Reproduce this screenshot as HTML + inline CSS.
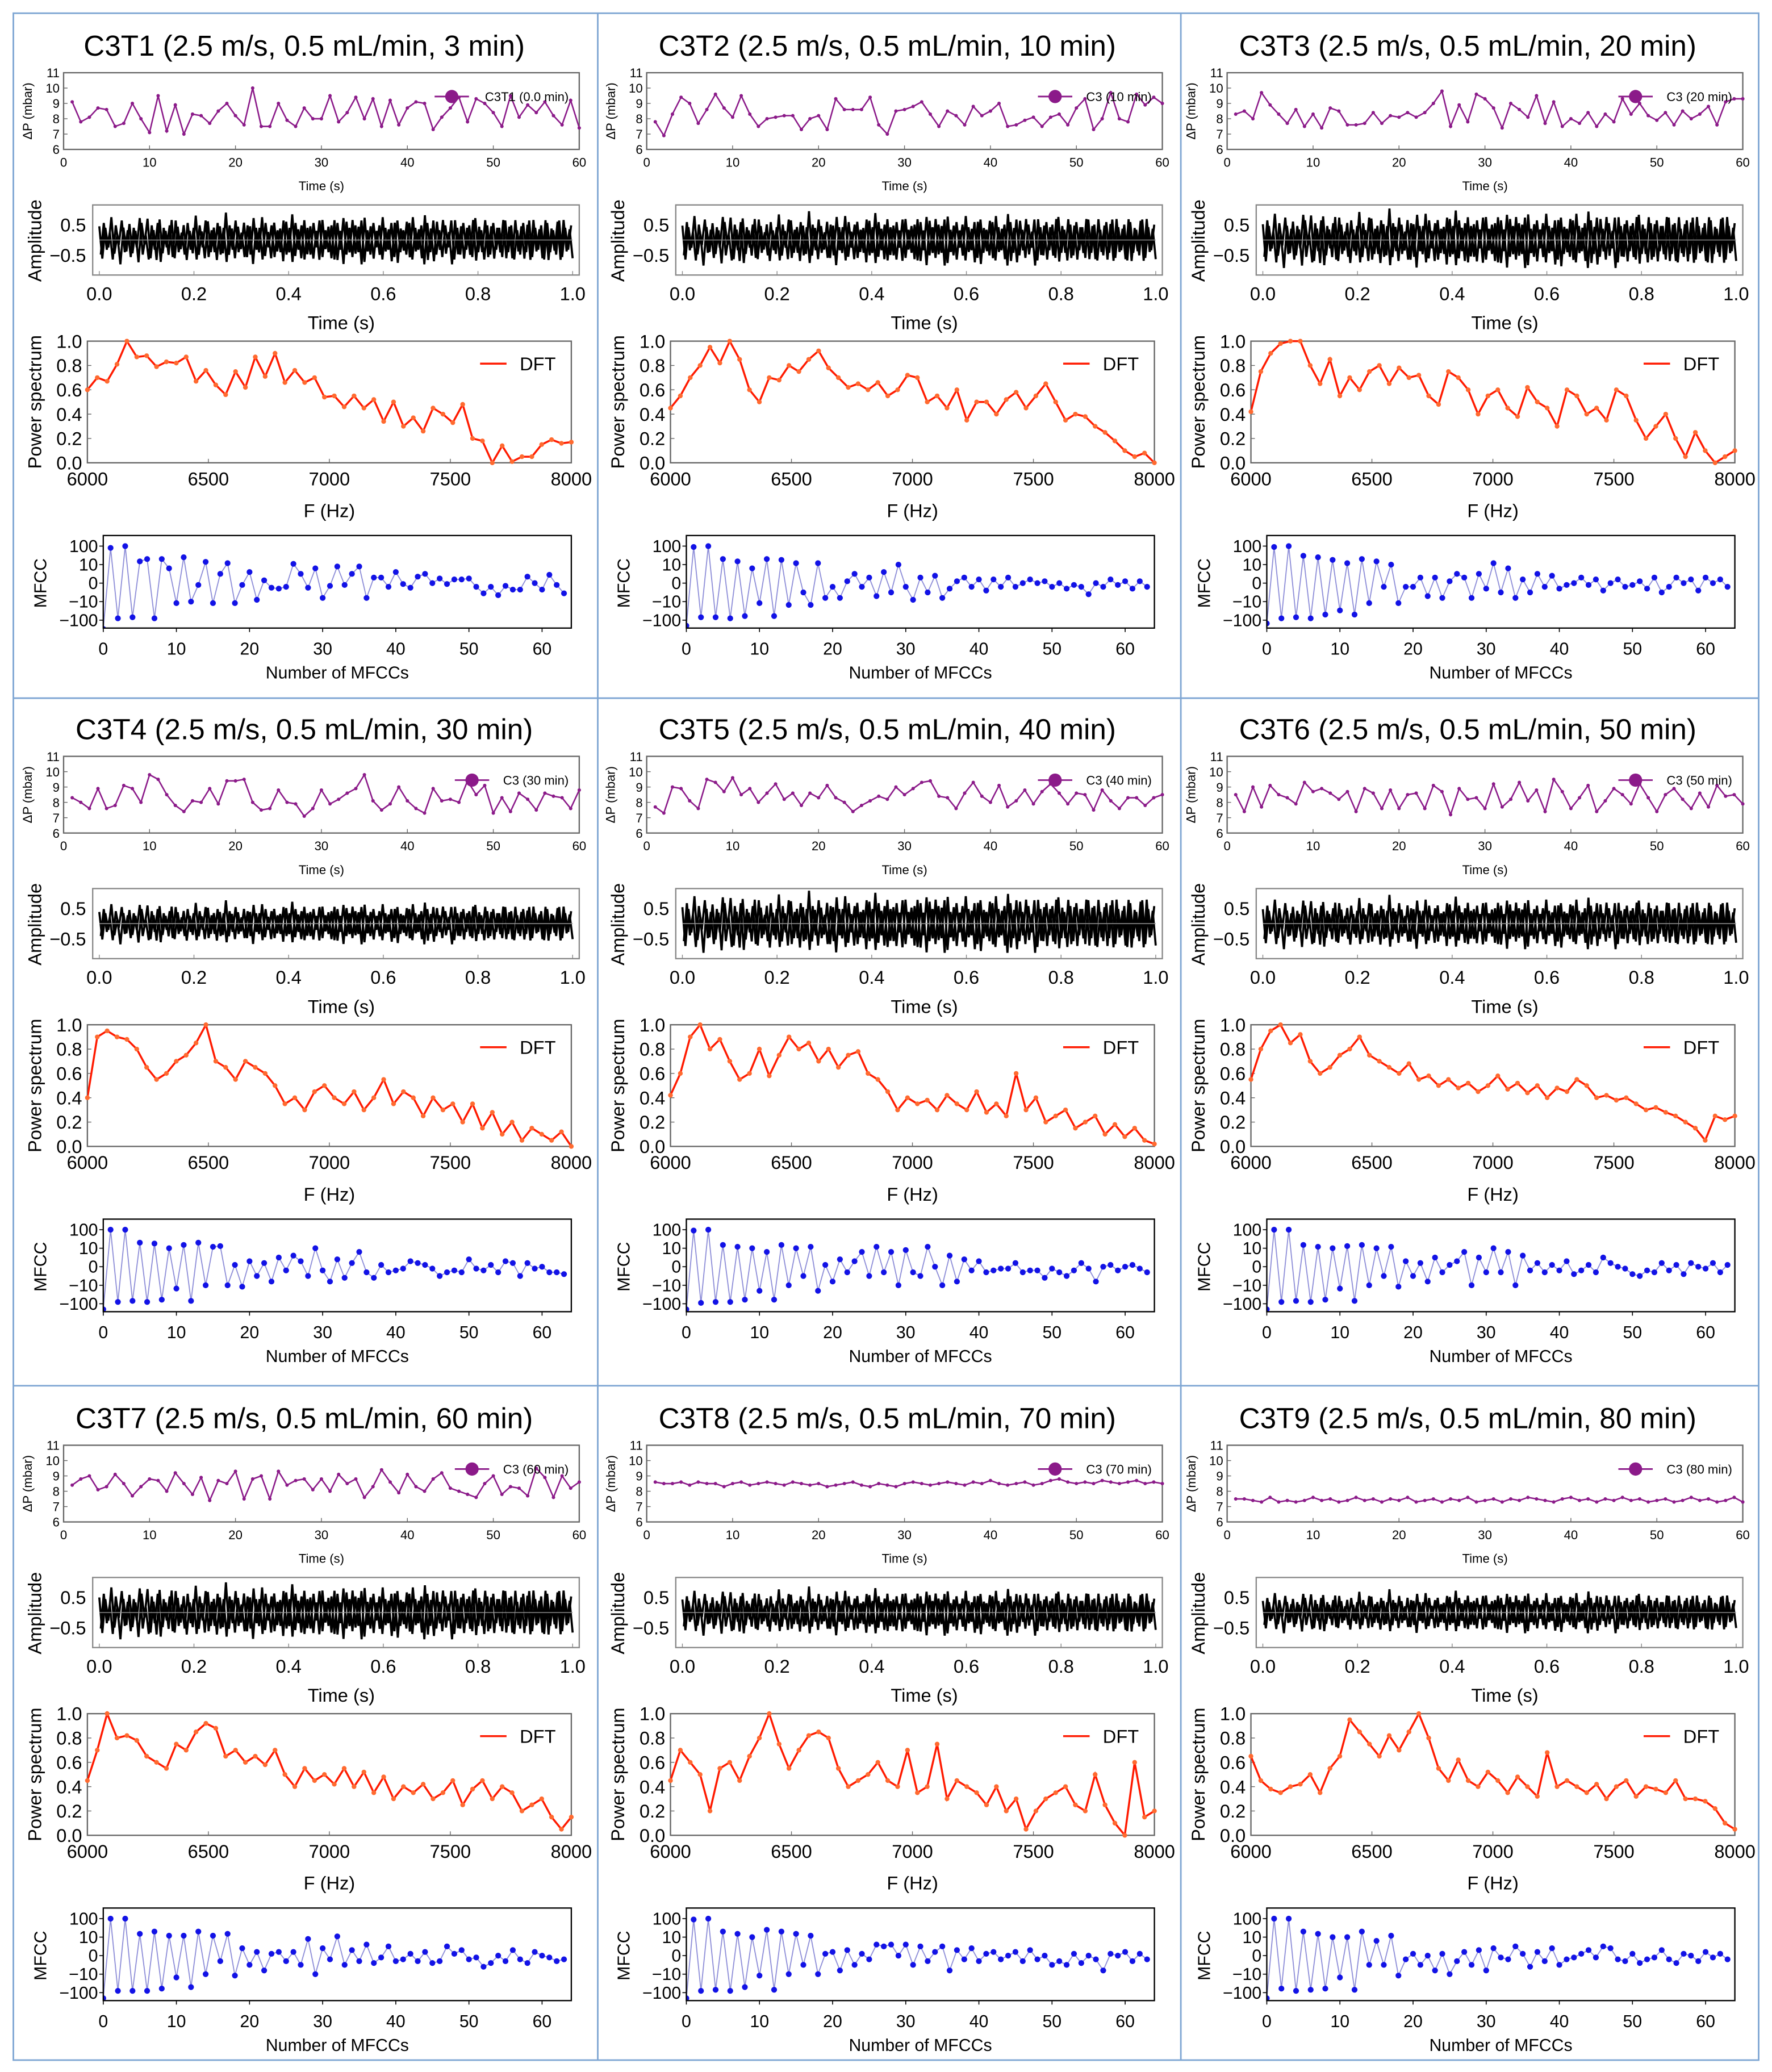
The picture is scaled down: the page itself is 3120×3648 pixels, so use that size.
<!DOCTYPE html>
<html><head><meta charset="utf-8"><style>
html,body{margin:0;padding:0;background:#fff}
svg{display:block;font-family:"Liberation Sans",Arial,sans-serif}
</style></head><body>
<svg id="fig" width="3120" height="3648" viewBox="0 0 1340 1567" xmlns="http://www.w3.org/2000/svg">
<rect x="0" y="0" width="1340" height="1567" fill="#fff"/>
<g stroke="#7fa6d3" stroke-width="1.2" fill="none">
<rect x="10" y="10" width="1320" height="1548"/>
<line x1="452" y1="10" x2="452" y2="1558"/><line x1="893" y1="10" x2="893" y2="1558"/>
<line x1="10" y1="528" x2="1330" y2="528"/><line x1="10" y1="1048" x2="1330" y2="1048"/>
</g>
</svg>
<script>
const titles=["C3T1 (2.5 m/s, 0.5 mL/min, 3 min)","C3T2 (2.5 m/s, 0.5 mL/min, 10 min)","C3T3 (2.5 m/s, 0.5 mL/min, 20 min)","C3T4 (2.5 m/s, 0.5 mL/min, 30 min)","C3T5 (2.5 m/s, 0.5 mL/min, 40 min)","C3T6 (2.5 m/s, 0.5 mL/min, 50 min)","C3T7 (2.5 m/s, 0.5 mL/min, 60 min)","C3T8 (2.5 m/s, 0.5 mL/min, 70 min)","C3T9 (2.5 m/s, 0.5 mL/min, 80 min)"];
const legendLabels=["C3T1 (0.0 min)","C3 (10 min)","C3 (20 min)","C3 (30 min)","C3 (40 min)","C3 (50 min)","C3 (60 min)","C3 (70 min)","C3 (80 min)"];
const dpTicksY=[6,7,8,9,10,11];
const dpTicksX=[0,10,20,30,40,50,60];
const ampTicksX=["0.0","0.2","0.4","0.6","0.8","1.0"];
const psTicksY=["0.0","0.2","0.4","0.6","0.8","1.0"];
const psTicksX=[6000,6500,7000,7500,8000];
const mfTicksY=[100,10,0,-10,-100];
const mfTicksX=[0,10,20,30,40,50,60];
const dp1=[9.1,7.8,8.1,8.7,8.6,7.5,7.7,9.0,8.0,7.1,9.5,7.2,8.9,7.0,8.3,8.2,7.7,8.5,9.0,8.2,7.6,10.0,7.5,7.5,9.0,7.9,7.5,8.7,8.0,8.0,9.5,7.8,8.4,9.4,8.0,9.3,7.5,9.2,7.6,8.7,9.1,9.0,7.3,8.1,8.7,9.4,7.8,9.3,9.0,8.4,7.5,9.5,8.1,8.9,8.4,9.1,8.2,7.6,9.2,7.4];
const dp2=[7.8,6.9,8.3,9.4,9.0,7.7,8.6,9.6,8.7,8.1,9.5,8.3,7.5,8.0,8.1,8.2,8.2,7.3,8.0,8.2,7.3,9.3,8.6,8.6,8.6,9.4,7.6,7.0,8.5,8.6,8.8,9.1,8.3,7.5,8.5,8.2,7.6,8.8,8.2,8.5,9.0,7.5,7.6,7.9,8.1,7.5,8.1,8.3,7.6,8.7,9.3,7.3,8.0,9.7,8.0,7.8,9.6,8.9,9.4,9.0];
const dp3=[8.3,8.5,8.0,9.7,8.9,8.3,7.7,8.6,7.5,8.3,7.4,8.7,8.5,7.6,7.6,7.7,8.4,7.7,8.2,8.1,8.4,8.1,8.4,9.0,9.8,7.5,8.9,7.8,9.6,9.3,8.7,7.4,9.0,8.6,8.1,9.5,7.7,9.1,7.5,8.0,7.7,8.4,7.5,8.3,7.8,9.3,8.3,9.0,8.2,7.9,8.4,7.6,8.5,8.0,8.3,8.8,7.6,9.1,9.3,9.3];
const dp4=[8.3,8.0,7.6,8.9,7.6,7.8,9.1,8.9,8.0,9.8,9.5,8.5,7.8,7.4,8.1,8.0,8.9,7.9,9.4,9.4,9.5,8.0,7.5,7.6,8.8,8.0,7.9,7.1,7.6,8.8,7.9,8.2,8.6,8.9,9.8,8.1,7.5,7.9,9.0,8.1,7.6,7.3,8.9,8.1,8.2,8.0,9.4,8.5,9.1,7.3,8.3,7.4,8.6,8.2,7.5,8.6,8.4,8.3,7.6,8.8];
const dp5=[7.7,7.3,9.0,8.9,8.1,7.6,9.5,9.3,8.7,9.6,8.5,8.9,8.0,8.6,9.2,8.2,8.6,7.8,8.6,8.3,9.1,8.3,8.0,7.4,7.8,8.1,8.4,8.2,9.0,8.5,8.9,9.3,9.4,8.4,8.3,7.6,8.6,9.3,8.4,8.0,9.1,7.7,8.1,8.8,7.9,8.7,9.2,8.6,7.9,8.6,8.5,7.5,8.8,8.1,7.6,8.3,8.3,7.8,8.3,8.5];
const dp6=[8.5,7.4,9.0,7.7,9.1,8.5,8.3,7.9,9.3,8.7,8.9,8.6,8.2,8.7,7.4,8.9,8.6,7.6,8.8,7.6,8.5,8.6,7.6,9.1,8.7,7.2,8.9,8.2,8.3,7.6,9.2,7.7,8.2,9.3,8.1,8.8,7.4,9.5,8.7,7.6,8.3,9.1,7.4,8.1,8.9,8.5,7.9,9.2,8.3,7.4,8.5,8.9,8.2,7.6,8.6,7.7,9.1,8.4,8.5,7.9];
const dp7=[8.4,8.8,9.0,8.1,8.3,9.1,8.5,7.7,8.3,8.8,8.7,8.0,9.2,8.5,7.8,8.9,7.4,8.7,8.5,9.3,7.5,8.8,9.0,7.5,9.3,8.4,8.7,8.8,8.1,8.8,8.0,9.1,8.5,8.8,7.6,8.3,9.4,8.6,7.9,9.1,8.3,8.0,8.8,9.2,8.2,8.0,7.8,7.6,8.5,9.0,7.8,8.3,8.2,7.7,9.5,8.9,7.6,9.0,8.2,8.6];
const dp8=[8.6,8.5,8.5,8.6,8.4,8.6,8.5,8.5,8.3,8.5,8.6,8.4,8.5,8.6,8.5,8.4,8.6,8.5,8.4,8.5,8.3,8.4,8.5,8.6,8.4,8.3,8.5,8.4,8.3,8.5,8.6,8.5,8.4,8.5,8.6,8.5,8.4,8.6,8.5,8.7,8.5,8.4,8.5,8.6,8.4,8.5,8.7,8.8,8.6,8.5,8.6,8.5,8.7,8.6,8.5,8.6,8.7,8.5,8.6,8.5];
const dp9=[7.5,7.5,7.4,7.3,7.6,7.3,7.4,7.3,7.4,7.6,7.4,7.5,7.3,7.4,7.6,7.4,7.5,7.3,7.5,7.4,7.6,7.3,7.4,7.5,7.3,7.5,7.4,7.6,7.3,7.4,7.5,7.3,7.5,7.4,7.6,7.5,7.4,7.3,7.5,7.6,7.4,7.5,7.3,7.5,7.4,7.6,7.4,7.5,7.3,7.4,7.5,7.3,7.4,7.6,7.4,7.5,7.3,7.4,7.6,7.3];
const ampBase=[0.6,-0.7,0.4,-0.3,0.8,-0.6,0.2,-0.8,0.5,-0.4,0.7,-0.5,0.3,-0.9,0.6,-0.2,0.8,-0.6,0.4,-0.7,0.9,-0.5,0.3,-0.6,0.7,-0.8,0.5,-0.3,0.6,-0.7,0.4,-0.5,0.8,-0.6,0.3,-0.8,0.7,-0.4,0.5,-0.7,0.6,-0.5,0.9,-0.6,0.4,-0.8,0.5,-0.3,0.7,-0.6,0.6,-0.9,0.4,-0.5,0.8,-0.7,0.3,-0.6,0.7,-0.4,0.5,-0.8,0.6,-0.5,0.9,-0.7,0.4,-0.6,0.8,-0.5,0.6,-0.7,0.3,-0.8,0.7,-0.4,0.5,-0.6,0.8,-0.7,0.4,-0.9,0.6,-0.5,0.7,-0.6,0.5,-0.8,0.9,-0.4,0.6,-0.7,0.3,-0.6,0.8,-0.5,0.4,-0.7,0.7,-0.8,0.5,-0.4,0.6,-0.7,0.8,-0.5,0.4,-0.6,1.0,-0.7,0.5,-0.8,0.6,-0.4,0.7,-0.6,0.3,-0.8,0.8,-0.5,0.6,-0.7,0.4,-0.6,0.7,-0.9,0.5,-0.4,0.8,-0.6,0.6,-0.7,0.4,-0.5,0.7,-0.8,0.5,-0.6,0.8,-0.4,0.6,-0.7,0.5,-0.8,0.7,-0.5,0.4,-0.6,0.8,-0.7,0.5,-0.4,0.6,-0.8,0.7,-0.5,0.4,-0.6];
const ampScale=[1.0,1.05,1.15,0.85,1.2,1.05,1.1,0.95,0.85];
const ps1=[.60,.70,.67,.81,1.0,.87,.88,.79,.83,.82,.87,.67,.76,.64,.56,.75,.62,.87,.71,.90,.66,.76,.66,.70,.54,.55,.46,.55,.45,.52,.34,.50,.30,.37,.26,.45,.40,.33,.48,.20,.18,.0,.14,.01,.05,.05,.15,.19,.16,.17];
const ps2=[.45,.55,.70,.80,.95,.82,1.0,.85,.60,.50,.70,.68,.80,.75,.85,.92,.78,.70,.62,.65,.60,.66,.55,.60,.72,.70,.50,.55,.45,.60,.35,.50,.50,.40,.52,.58,.45,.55,.65,.50,.35,.40,.38,.30,.25,.18,.10,.05,.08,.0];
const ps3=[.42,.75,.90,.98,1.0,1.0,.80,.65,.85,.55,.70,.60,.75,.80,.65,.78,.70,.72,.55,.48,.75,.70,.60,.40,.55,.60,.45,.38,.62,.50,.45,.30,.60,.55,.40,.45,.35,.60,.55,.35,.20,.30,.40,.20,.05,.25,.10,.0,.05,.10];
const ps4=[.40,.90,.95,.90,.88,.80,.65,.55,.60,.70,.75,.85,1.0,.70,.65,.55,.70,.65,.60,.50,.35,.40,.30,.45,.50,.40,.35,.45,.30,.40,.55,.35,.45,.40,.25,.40,.30,.35,.20,.35,.15,.28,.10,.20,.05,.15,.10,.05,.12,.0];
const ps5=[.42,.60,.90,1.0,.80,.88,.70,.55,.60,.80,.58,.75,.90,.80,.85,.70,.80,.65,.75,.78,.60,.55,.45,.30,.40,.35,.38,.30,.42,.35,.30,.45,.28,.35,.25,.60,.30,.40,.20,.25,.30,.15,.20,.25,.10,.18,.08,.15,.05,.02];
const ps6=[.55,.80,.95,1.0,.85,.92,.70,.60,.65,.75,.80,.90,.75,.70,.65,.60,.68,.55,.58,.50,.55,.48,.52,.45,.50,.58,.47,.52,.44,.50,.40,.48,.45,.55,.50,.40,.42,.38,.40,.35,.30,.32,.28,.25,.20,.15,.05,.25,.22,.25];
const ps7=[.45,.70,1.0,.80,.82,.78,.65,.60,.55,.75,.70,.85,.92,.88,.65,.70,.60,.65,.58,.70,.50,.40,.55,.45,.50,.42,.55,.40,.52,.35,.48,.30,.40,.35,.42,.30,.35,.45,.25,.38,.45,.30,.40,.35,.20,.25,.30,.15,.05,.15];
const ps8=[.45,.70,.60,.50,.20,.55,.60,.45,.65,.80,1.0,.75,.55,.70,.82,.85,.80,.55,.40,.45,.50,.60,.45,.40,.70,.35,.40,.75,.30,.45,.40,.35,.25,.40,.20,.30,.05,.20,.30,.35,.40,.25,.20,.50,.25,.10,.0,.60,.15,.20];
const ps9=[.65,.45,.38,.35,.40,.42,.50,.35,.55,.65,.95,.85,.75,.65,.82,.70,.85,1.0,.80,.55,.45,.62,.45,.40,.52,.45,.35,.48,.40,.32,.68,.40,.45,.40,.35,.42,.30,.40,.45,.32,.40,.38,.35,.45,.30,.30,.28,.22,.10,.05];
const mf1=[-300,80,-80,100,-70,15,20,-80,20,8,-12,25,-10,-1,14,-12,5,12,-12,-1,6,-9,1.5,-2.5,-3,-2,11,5,-2.5,8,-8,-1.5,9,-1,5,9,-8,3,3,-2,6,-0.5,-2.5,3.5,5,0,2.5,-0.5,2,2,2.5,-2,-5.5,-2,-6.5,-1.5,-3.5,-3.5,3.5,0,-3.5,4.5,-1,-5.5];
const mf2=[-200,90,-70,100,-70,20,-80,15,-60,8,-12,20,-60,18,-15,12,-5,-15,12,-8,-2,-8,1,5,-2,3,-7,6,-5,10,-2,-9,3,-5,4,-8,-3,1,3,-2,2,-4,2,-2,3,-2,0,2,0,1,-2,0,-3,-1,-2,-6,0,-2,2,-1,1,-3,1,-2];
const mf3=[-150,90,-80,100,-70,30,-80,25,-50,18,-30,12,-50,20,-12,15,-2,10,-12,-2,-2,3,-7,3,-8,1,5,3,-8,5,-3,12,-5,8,-8,2,-5,5,-2,4,-3,-1,0,3,-1,2,-4,0,2,-2,-1,1,-3,3,-5,-2,3,0,2,-4,3,0,2,-2];
const mf4=[-200,100,-80,100,-70,20,-80,18,-60,10,-15,15,-70,20,-10,12,13,-10,1,-12,3,-5,2,-8,5,-2,6,3,-5,10,-2,-8,4,-6,2,8,-3,-6,1,-3,-2,-1,3,2,1,-1,-5,-3,-2,-3,4,-1,-2,1,-3,3,2,-5,2,-1,0,-3,-3,-4];
const mf5=[-200,90,-90,100,-80,15,-80,12,-60,10,-20,8,-60,15,-10,10,-5,12,-20,1,-8,4,-3,3,8,-5,12,-3,8,-10,9,-3,-5,12,0,-10,6,-8,4,-2,3,-3,-2,-1,-1,2,-3,-2,-2,-6,-1,-3,-5,-2,2,-1,-8,0,1,-2,0,1,-1,-3];
const mf6=[-200,100,-80,100,-70,15,-80,12,-60,10,-15,13,-70,15,-10,10,-5,12,-12,3,-5,2,-8,5,-3,1,3,8,-10,5,-3,10,-3,8,-10,6,-2,2,-3,1,-2,3,-4,-2,1,-3,5,2,0,-1,-4,-5,-2,-3,2,-2,1,-4,2,0,-1,2,-3,1];
const mf7=[-200,100,-80,100,-80,15,-80,20,-60,12,-15,12,-50,20,-10,12,-3,15,-12,4,-5,2,-8,1,2,-3,2,-5,9,-10,4,-2,11,-5,3,-3,6,-4,-1,5,-3,-2,1,-3,2,-4,-3,5,1,3,-2,-1,-6,-4,0,-3,3,-2,-4,2,0,-1,-3,-2];
const mf8=[-200,90,-80,100,-70,20,-80,15,-50,10,-12,25,-70,20,-10,15,-5,12,-10,1,2,-8,3,-5,1,-2,6,5,6,0,6,-5,5,-3,2,5,-8,3,-2,4,-3,1,2,-2,0,2,-3,3,-2,0,-5,-3,-5,1,-4,0,-2,-8,1,0,2,-3,1,-2];
const mf9=[-200,100,-60,100,-80,20,-70,15,-60,10,-15,10,-70,20,-5,8,-5,12,-12,-2,1,-5,0,-8,1,-10,-3,2,-5,3,-8,4,-1,-2,5,1,-6,2,-3,4,-5,-2,-1,1,3,-1,5,4,-2,-3,1,-4,-2,-1,3,-2,-4,1,0,-3,2,-1,1,-2];
const dpData=[dp1,dp2,dp3,dp4,dp5,dp6,dp7,dp8,dp9];
const psData=[ps1,ps2,ps3,ps4,ps5,ps6,ps7,ps8,ps9];
const mfData=[mf1,mf2,mf3,mf4,mf5,mf6,mf7,mf8,mf9];
const fMin=6000, fMax=8000;

const NS="http://www.w3.org/2000/svg";
const svg=document.getElementById('fig');
function mk(tag,attrs,parent){const e=document.createElementNS(NS,tag);for(const k in attrs)e.setAttribute(k,attrs[k]);(parent||svg).appendChild(e);return e;}
function txt(s,x,y,size,anchor,parent,rot){const t=mk('text',{x:x,y:y,'font-size':size,'text-anchor':anchor||'middle',fill:'#000'},parent);if(rot)t.setAttribute('transform','rotate(-90 '+x+' '+y+')');t.textContent=s;return t;}
function box(x0,y0,x1,y1,g,col){const r=mk('rect',{x:x0,y:y0,width:x1-x0,height:y1-y0,fill:'none',stroke:col||'#000','stroke-width':1},g);return r;}
function symlog(v){const a=Math.abs(v);return a<=10?v/10:Math.sign(v)*(1+Math.log10(a/10));}
let clipId=0;
function clip(x0,y0,x1,y1){const id='c'+(clipId++);const cp=mk('clipPath',{id:id});mk('rect',{x:x0,y:y0,width:x1-x0,height:y1-y0},cp);return 'url(#'+id+')';}

for(let p=0;p<9;p++){
  const ox=[0,441,880][p%3], oy=[0,517,1038][Math.floor(p/3)];
  const g=mk('g',{});
  
  
  const tt=txt(titles[p],230+ox,42+oy,22,'middle',g);
  
  

  // ΔP chart
  {const x0=48+ox,x1=438+ox,y0=55+oy,y1=113+oy;
   const cg=mk('g',{},g);
   
   
   box(x0,y0,x1,y1,cg,'#666');
   const xs=t=>x0+t/60*(x1-x0), ys=v=>y1-(v-6)/5*(y1-y0);
   dpTicksY.forEach(v=>{txt(String(v),x0-3,ys(v)+3.5,9.5,'end',cg);mk('line',{x1:x0,x2:x0+3,y1:ys(v),y2:ys(v),stroke:'#666','stroke-width':.6},cg);});
   dpTicksX.forEach(v=>{txt(String(v),xs(v),y1+13,9.5,'middle',cg);mk('line',{x1:xs(v),x2:xs(v),y1:y1,y2:y1-3,stroke:'#666','stroke-width':.6},cg);});
   const xt=txt('Time (s)',(x0+x1)/2,y1+31,9.5,'middle',cg);
   
   const yt=txt('ΔP (mbar)',24+ox,84+oy,9.5,'middle',cg,true);
   
   const d=dpData[p];
   const pts=d.map((v,i)=>xs(i+1)+','+ys(v)).join(' ');
   const pl=mk('polyline',{points:pts,fill:'none',stroke:'#8b1a89','stroke-width':1.1,'clip-path':clip(x0,y0,x1,y1)},cg);
   
   
   d.forEach((v,i)=>{const c=mk('circle',{cx:xs(i+1),cy:ys(v),r:1.3,fill:'#8b1a89'},cg);
     
     });
   const lg=mk('g',{},cg);
   
   
   const tw=legendLabels[p].length*5.1;
   const lx=x1-8-tw;
   mk('line',{x1:lx-30,x2:lx-4,y1:y0+18,y2:y0+18,stroke:'#8b1a89','stroke-width':1.2},lg);
   mk('circle',{cx:lx-17,cy:y0+18,r:5,fill:'#8b1a89'},lg);
   txt(legendLabels[p],x1-8,y0+21.5,9.5,'end',lg);
  }
  // Amplitude chart
  {const x0=70+ox,x1=438+ox,y0=155+oy,y1=208+oy;
   const cg=mk('g',{},g);
   
   
   const xs=t=>x0+5+t*(x1-x0-10), ys=v=>(y0+y1)/2-v*23;
   const s=ampScale[p];
   const a=ampBase;
   const pts=a.map((v,i)=>xs(i/(a.length-1))+','+ys(v*s*(0.75+0.25*((i*7)%5)/4))).join(' ');
   const pl=mk('polyline',{points:pts,fill:'none',stroke:'#000','stroke-width':1.6,'clip-path':clip(x0,y0,x1,y1)},cg);
   
   
   const pts2=a.map((v,i)=>xs((i+0.5)/(a.length))+','+ys(-v*s*0.8)).join(' ');
   mk('polyline',{points:pts2,fill:'none',stroke:'#000','stroke-width':1.6,'clip-path':clip(x0,y0,x1,y1)},cg);
   mk('line',{x1:x0+5,x2:x1-5,y1:ys(0),y2:ys(0),stroke:'#999','stroke-width':.6},cg);
   box(x0,y0,x1,y1,cg,'#888');
   [['0.5',0.5],['−0.5',-0.5]].forEach(t=>{txt(t[0],x0-5,ys(t[1])+5,14,'end',cg);});
   ampTicksX.forEach((l,i)=>{const x=xs(i/5);txt(l,x,y1+19,14,'middle',cg);mk('line',{x1:x,x2:x,y1:y1,y2:y1-3,stroke:'#888','stroke-width':.6},cg);});
   const xt=txt('Time (s)',(x0+x1)/2+4,y1+41,14,'middle',cg);
   
   const yt=txt('Amplitude',31+ox,182+oy,14,'middle',cg,true);
   
  }
  // Power spectrum chart
  {const x0=66+ox,x1=432+ox,y0=258+oy,y1=350+oy;
   const cg=mk('g',{},g);
   
   
   box(x0,y0,x1,y1,cg,'#666');
   const xs=f=>x0+(f-fMin)/(fMax-fMin)*(x1-x0), ys=v=>y1-v*(y1-y0);
   psTicksY.forEach(l=>{txt(l,x0-4,ys(+l)+5,14,'end',cg);mk('line',{x1:x0,x2:x0+3,y1:ys(+l),y2:ys(+l),stroke:'#666','stroke-width':.6},cg);});
   psTicksX.forEach(f=>{txt(String(f),xs(f),y1+17,14,'middle',cg);mk('line',{x1:xs(f),x2:xs(f),y1:y1,y2:y1-3,stroke:'#666','stroke-width':.6},cg);});
   const xt=txt('F (Hz)',(x0+x1)/2,y1+41,14,'middle',cg);
   
   const yt=txt('Power spectrum',31+ox,304+oy,14,'middle',cg,true);
   
   const d=psData[p];
   const fx=i=>fMin+i*(fMax-fMin)/(d.length-1);
   const pl=mk('polyline',{points:d.map((v,i)=>xs(fx(i))+','+ys(v)).join(' '),fill:'none',stroke:'#ff1a00','stroke-width':1.5,'clip-path':clip(x0,y0-2,x1,y1+2)},cg);
   
   
   d.forEach((v,i)=>{const c=mk('circle',{cx:xs(fx(i)),cy:ys(v),r:1.8,fill:'#ff6a30'},cg);
     
     });
   const lg=mk('g',{},cg);
   
   
   mk('line',{x1:x1-69,x2:x1-49,y1:y0+17,y2:y0+17,stroke:'#ff1a00','stroke-width':1.5},lg);
   txt('DFT',x1-39,y0+22,14,'start',lg);
  }
  // MFCC chart
  {const x0=78+ox,x1=432+ox,y0=405+oy,y1=475+oy;
   const cg=mk('g',{},g);
   
   
   const xs=i=>x0+i/64*(x1-x0), ys=v=>441+oy-symlog(v)*14;
   const d=mfData[p];
   const cp=clip(x0,y0,x1,y1);
   const pl=mk('polyline',{points:d.map((v,i)=>xs(i)+','+ys(v)).join(' '),fill:'none',stroke:'#8f8fd8','stroke-width':.8,'clip-path':cp},cg);
   
   
   d.forEach((v,i)=>{const c=mk('circle',{cx:xs(i),cy:ys(v),r:2.2,fill:'#1212e6','clip-path':cp},cg);
     
     });
   box(x0,y0,x1,y1,cg,'#000');
   mfTicksY.forEach(v=>{txt(String(v).replace('-','−'),x0-4,ys(v)+4.5,13,'end',cg);mk('line',{x1:x0-3,x2:x0,y1:ys(v),y2:ys(v),stroke:'#000','stroke-width':.7},cg);});
   mfTicksX.forEach(v=>{txt(String(v),xs(v),y1+20,13,'middle',cg);mk('line',{x1:xs(v),x2:xs(v),y1:y1,y2:y1+3,stroke:'#000','stroke-width':.7},cg);});
   const xt=txt('Number of MFCCs',(x0+x1)/2,y1+38,13,'middle',cg);
   
   const yt=txt('MFCC',35+ox,441+oy,13,'middle',cg,true);
   
  }
}
</script>
</body></html>
